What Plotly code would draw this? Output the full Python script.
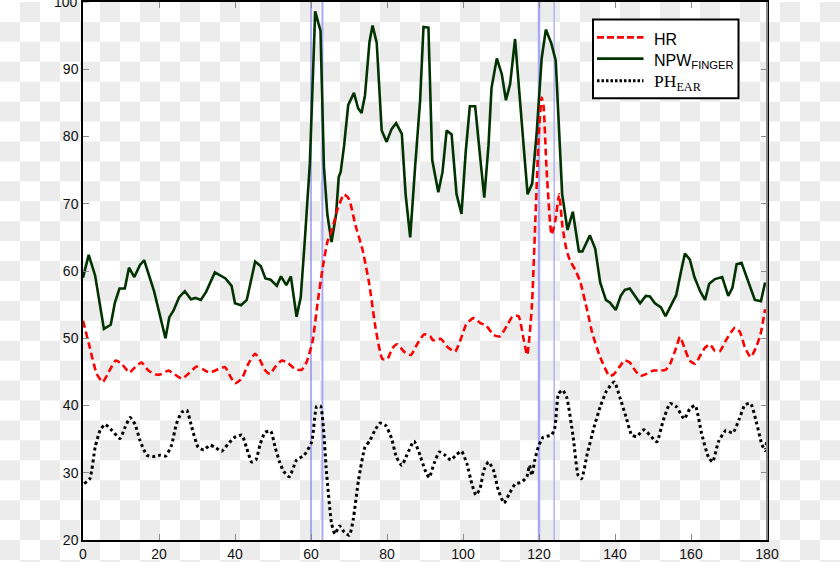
import plotly.graph_objects as go

# ---------------- data ----------------
npw_x = [0, 1.5, 3.2, 5.5, 7.3, 8.4, 9.6, 11.0, 12.1, 13.5, 15.0, 16.1, 18.7, 20.3, 21.7, 22.7, 23.8,
         25.3, 26.8, 28.4, 29.6, 31.0, 32.4, 34.7, 37.5, 39.1, 40.0, 41.6, 43.1, 45.3, 46.8, 48.0,
         49.4, 51.0, 52.1, 53.5, 54.7, 56.2, 57.3, 58.4, 59.7, 61.1, 62.5, 63.4, 64.3, 65.4, 66.6,
         67.3, 67.8, 68.7, 69.8, 71.3, 72.4, 73.3, 74.2, 75.4, 76.2, 77.3, 78.6, 79.9, 81.2, 82.4,
         83.9, 84.9, 86.1, 87.4, 88.7, 89.6, 90.9, 91.9, 93.5, 94.6, 95.7, 97.0, 98.3, 99.6, 100.7,
         101.8, 103.2, 104.5, 105.6, 106.7, 107.5, 108.9, 110.2, 111.3, 112.4, 113.7, 115.0, 116.1,
         117.0, 118.2, 119.4, 120.7, 121.8, 123.2, 124.4, 125.3, 126.1, 127.5, 128.9, 130.5, 131.4,
         133.4, 134.8, 136.1, 137.6, 138.7, 140.2, 141.5, 142.6, 143.9, 145.3, 146.6, 148.1, 149.2,
         150.5, 152.1, 153.3, 154.7, 156.1, 157.4, 158.4, 159.7, 160.9, 162.4, 163.7, 164.8, 166.3,
         168.2, 169.8, 170.9, 172.0, 173.3, 175.1, 176.8, 178.4, 179.5]
npw_y = [59.0, 62.4, 59.3, 51.4, 52.0, 55.3, 57.4, 57.4, 60.5, 59.1, 60.9, 61.6, 57.0, 53.1, 50.0,
         53.1, 54.1, 56.1, 57.0, 55.8, 56.0, 55.7, 56.9, 59.8, 58.9, 57.8, 55.2, 54.9, 55.7, 61.4,
         60.7, 58.9, 58.7, 57.8, 59.2, 57.9, 59.2, 53.2, 56.1, 64.8, 76.0, 98.6, 95.7, 75.5, 68.4,
         64.3, 68.4, 74.0, 74.7, 78.6, 84.7, 86.5, 84.2, 83.5, 86.1, 94.1, 96.5, 93.9, 80.9, 79.2,
         81.1, 82.0, 80.4, 71.4, 65.0, 75.5, 85.2, 96.3, 96.2, 76.5, 71.7, 74.7, 80.9, 80.3, 71.4,
         68.5, 77.6, 84.5, 84.5, 77.0, 70.9, 78.6, 87.2, 91.6, 89.3, 85.4, 87.8, 94.5, 84.7, 77.6,
         71.4, 73.0, 80.6, 91.6, 95.9, 93.9, 91.3, 81.1, 71.4, 66.1, 68.8, 62.9, 62.9, 65.3, 63.3,
         58.3, 55.7, 55.3, 54.2, 56.3, 57.2, 57.4, 56.3, 55.2, 56.3, 56.2, 55.2, 54.6, 53.3, 54.9,
         56.4, 60.0, 62.6, 61.7, 59.1, 57.0, 55.7, 58.1, 58.8, 59.1, 56.3, 57.5, 61.0, 61.2, 58.3,
         55.7, 55.5, 58.3]

hr_x = [0.0, 1.8, 3.6, 5.2, 6.7, 8.6, 10.2, 12.2, 13.7, 15.4, 17.2, 19.2, 20.7, 22.5, 24.2, 26.0,
        27.7, 29.9, 31.5, 33.4, 35.6, 37.4, 38.7, 40.0, 41.8, 43.5, 45.3, 46.6, 48.0, 49.2, 50.8,
        52.3, 54.0, 55.8, 57.5, 58.8, 60.4, 61.7, 63.0, 64.3, 65.6, 67.1, 68.7, 70.0, 71.7, 73.5,
        75.3, 77.0, 78.8, 80.1, 81.4, 82.7, 84.5, 86.3, 88.0, 89.8, 91.4, 92.1, 94.2, 95.9, 97.9,
        99.5, 100.8, 102.7, 104.5, 106.2, 108.0, 109.7, 111.5, 113.0, 114.6, 115.9, 116.9, 118.1,
        119.0, 119.9, 120.7, 121.2, 122.0, 123.3, 124.3, 125.3, 126.2, 127.3, 128.2, 129.5, 130.8,
        132.7, 134.1, 136.1, 138.5, 139.6, 141.1, 142.6, 143.9, 145.3, 146.7, 148.3, 150.1, 151.8,
        153.3, 154.6, 156.1, 157.1, 158.4, 159.6, 161.1, 162.4, 163.7, 165.0, 166.3, 167.6, 169.4,
        171.6, 172.9, 174.2, 175.7, 177.1, 178.3, 179.5]
hr_y = [52.6, 48.6, 44.7, 43.5, 44.9, 46.7, 46.2, 44.9, 45.7, 46.4, 45.2, 44.6, 44.7, 45.2, 44.6,
        44.0, 44.7, 45.8, 45.4, 44.9, 45.4, 45.7, 44.4, 43.3, 44.0, 46.2, 47.7, 46.7, 45.2, 44.7,
        45.9, 46.7, 46.3, 45.4, 45.3, 46.4, 49.5, 55.1, 60.2, 64.3, 66.3, 69.4, 71.4, 70.7, 66.8,
        63.3, 58.2, 51.5, 46.9, 46.9, 48.5, 49.1, 48.0, 47.5, 49.2, 50.6, 50.3, 49.7, 49.9, 48.7,
        48.0, 50.0, 52.0, 53.0, 52.3, 51.8, 50.5, 50.3, 51.8, 53.2, 53.3, 50.0, 47.5, 54.5, 67.0,
        79.6, 85.8, 84.5, 75.0, 65.4, 67.5, 71.4, 66.5, 63.0, 61.5, 60.2, 58.5, 54.1, 50.6, 47.2,
        44.4, 44.6, 45.7, 46.7, 46.4, 45.2, 44.4, 44.7, 45.2, 45.2, 45.3, 46.3, 48.6, 50.2, 48.4,
        46.7, 46.2, 47.4, 48.6, 49.1, 48.1, 48.1, 49.9, 51.6, 50.9, 48.6, 47.2, 48.6, 50.6, 54.3]

ph_x = [0.3, 1.8, 3.2, 4.5, 5.8, 7.6, 9.7, 11.1, 12.4, 13.7, 15.0, 16.8, 18.5, 20.3, 21.8, 23.3,
        24.6, 26.0, 27.3, 28.6, 30.3, 31.8, 33.4, 34.7, 36.5, 38.2, 40.0, 41.8, 43.1, 44.4, 45.5,
        46.6, 47.9, 49.4, 50.6, 51.8, 52.8, 54.3, 56.2, 58.2, 60.2, 61.5, 62.5, 64.1, 65.4, 66.3,
        67.5, 68.7, 70.1, 71.1, 72.5, 74.2, 75.5, 76.8, 78.2, 79.7, 81.2, 82.5, 83.9, 85.2, 87.1,
        88.7, 90.0, 91.1, 92.4, 93.8, 95.3, 96.8, 98.3, 99.6, 101.0, 102.3, 103.4, 104.5, 105.5,
        106.7, 108.0, 109.3, 110.8, 112.2, 113.7, 115.4, 116.8, 117.5, 118.1, 118.9, 119.8, 121.1,
        123.3, 124.2, 125.1, 126.2, 127.3, 129.0, 130.3, 131.2, 132.7, 134.5, 136.1, 137.8, 139.8,
        141.3, 142.9, 144.4, 145.7, 147.6, 149.2, 151.0, 152.7, 154.5, 156.2, 158.2, 159.7, 161.1,
        162.8, 164.6, 165.7, 167.2, 169.2, 171.0, 172.7, 174.2, 175.7, 177.3, 178.6, 179.5, 180.0]
ph_y = [28.4, 29.1, 33.8, 36.3, 37.2, 36.3, 35.1, 36.8, 38.2, 37.2, 34.8, 32.6, 32.4, 32.6, 32.5,
        34.1, 37.3, 39.0, 39.3, 36.8, 33.8, 33.4, 34.1, 33.8, 33.2, 34.3, 35.3, 35.6, 33.6, 31.6,
        31.9, 34.2, 36.0, 36.2, 33.7, 31.5, 30.2, 29.4, 31.9, 32.6, 34.6, 39.9, 39.9, 29.9, 22.5,
        20.9, 22.1, 21.2, 20.7, 23.0, 28.9, 33.8, 34.8, 36.3, 37.4, 37.0, 35.1, 32.3, 31.1, 32.6,
        34.7, 32.6, 30.4, 29.3, 31.4, 33.1, 32.6, 31.9, 32.7, 33.2, 31.4, 28.4, 26.7, 27.7, 30.4,
        31.6, 30.4, 27.4, 25.5, 26.9, 28.3, 28.6, 29.4, 31.1, 29.6, 31.9, 33.8, 35.3, 35.6, 36.8,
        41.7, 42.3, 41.2, 35.3, 29.6, 29.1, 32.8, 36.8, 39.8, 42.2, 43.5, 41.2, 38.3, 35.6, 35.4,
        36.4, 35.6, 34.6, 37.8, 40.3, 39.8, 38.0, 39.5, 40.0, 35.8, 32.3, 31.6, 34.6, 36.3, 35.9,
        38.0, 40.1, 40.3, 37.3, 34.3, 33.3, 35.0]

event_x = [60, 63, 120, 124]
event_colors = ["#6464e6", "#a9a9f5", "#a9a9f5", "#b3b3f8"]
event_widths = [1, 2, 2.5, 1.5]

x_ticks = [0, 20, 40, 60, 80, 100, 120, 140, 160, 180]
y_ticks = [20, 30, 40, 50, 60, 70, 80, 90]
y_top_label = "100"
x_range = [0, 180]
y_range = [20, 100]

legend_labels = ["HR", "NPW<sub>FINGER</sub>", "PH<sub>EAR</sub>"]

# ---------------- layout geometry ----------------
W, H = 840, 562
ML, MR, MT, MB = 83, 73, 0, 22
PW, PH_ = W - ML - MR, H - MT - MB


def fx(p):
    return (p - ML) / PW


def fy(p):
    return (H - MB - p) / PH_


fig = go.Figure()

# event markers (vertical lines drawn through the axes)
for ex, ec, ew in zip(event_x, event_colors, event_widths):
    fig.add_trace(go.Scatter(x=[ex, ex], y=y_range, mode="lines",
                             line=dict(color=ec, width=ew), showlegend=False, hoverinfo="skip"))

fig.add_trace(go.Scatter(x=npw_x, y=npw_y, mode="lines", name="NPW",
                         line=dict(color="#003300", width=2.6), showlegend=False))
fig.add_trace(go.Scatter(x=hr_x, y=hr_y, mode="lines", name="HR",
                         line=dict(color="#ff0000", width=2.6, dash="7px,4px",
                                   shape="spline", smoothing=0.5), showlegend=False))
fig.add_trace(go.Scatter(x=ph_x, y=ph_y, mode="lines", name="PH",
                         line=dict(color="#000000", width=3, dash="3px,3px",
                                   shape="spline", smoothing=0.5), showlegend=False))

# transparency checkerboard background
parts = []
for r in range(29):
    for c in range(42):
        if (r + c) % 2 == 1:
            x0, x1 = fx(c * 20), fx(c * 20 + 20)
            y0, y1 = fy(r * 20), fy(r * 20 + 20)
            parts.append(f"M{x0:.5f},{y0:.5f}H{x1:.5f}V{y1:.5f}H{x0:.5f}Z")
shapes = [dict(type="path", xref="paper", yref="paper", path="".join(parts),
               fillcolor="#ececec", line=dict(width=0), layer="below")]

# right border (gray)
shapes.append(dict(type="line", xref="paper", yref="paper", x0=1, x1=1, y0=0, y1=1,
                   line=dict(color="#8a8a8a", width=2), layer="above"))
# tick at the top of the y axis
shapes.append(dict(type="line", xref="paper", yref="y", x0=0, x1=fx(89), y0=100, y1=100,
                   line=dict(color="#8a8a8a", width=1), layer="above"))

# manual legend
shapes.append(dict(type="rect", xref="paper", yref="paper",
                   x0=fx(593), x1=fx(738.5), y0=fy(96.5), y1=fy(17.5),
                   fillcolor="white", line=dict(color="black", width=2), layer="above"))
leg_y = [35.5, 56.8, 79]
leg_styles = [dict(color="#ff0000", width=2.6, dash="7px,3px"),
              dict(color="#003300", width=2.6),
              dict(color="#000000", width=3, dash="2.5px,2px")]
for yy, st in zip(leg_y, leg_styles):
    shapes.append(dict(type="line", xref="paper", yref="paper", x0=fx(597), x1=fx(643.5),
                       y0=fy(yy), y1=fy(yy), line=st, layer="above"))

tick_font = dict(family="Liberation Sans, Arial", size=14, color="#111")
annotations = []
leg_text_y = [37.5, 59.5, 80.5]
leg_fonts = [dict(family="Liberation Sans, Arial", size=16, color="black"),
             dict(family="Liberation Sans, Arial", size=16, color="black"),
             dict(family="Liberation Serif, Times New Roman", size=17.5, color="black")]
for lbl, yy, fnt in zip(legend_labels, leg_text_y, leg_fonts):
    annotations.append(dict(xref="paper", yref="paper", x=fx(652), y=fy(yy), text=lbl,
                            showarrow=False, xanchor="left", yanchor="middle", font=fnt))
# the partly cut top tick label
annotations.append(dict(xref="paper", yref="y", x=fx(79), y=y_range[1], text=y_top_label,
                        showarrow=False, xanchor="right", yanchor="middle", font=tick_font,
                        borderpad=0))

axis_common = dict(showgrid=False, zeroline=False, ticks="inside", ticklen=6,
                   tickcolor="#8a8a8a", tickwidth=1, showline=True, linecolor="black",
                   linewidth=1.5, mirror="ticks", tickfont=tick_font)

fig.update_layout(
    width=W, height=H, margin=dict(l=ML, r=MR, t=MT, b=MB, pad=0),
    paper_bgcolor="white", plot_bgcolor="rgba(0,0,0,0)",
    xaxis=dict(range=x_range, tickvals=x_ticks, **axis_common),
    yaxis=dict(range=y_range, tickvals=y_ticks, **axis_common),
    shapes=shapes, annotations=annotations, showlegend=False,
)

fig.write_html("out.html")
